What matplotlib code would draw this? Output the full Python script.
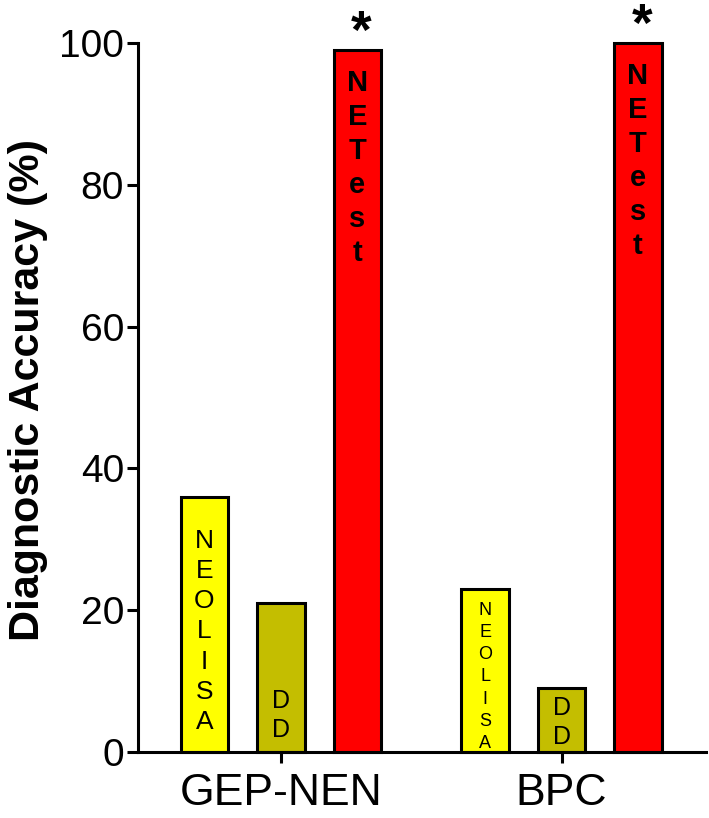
import matplotlib
matplotlib.use('Agg')
import matplotlib.pyplot as plt
import numpy as np

plt.rcParams['font.family'] = ['Liberation Sans', 'DejaVu Sans']

groups = ['GEP-NEN', 'BPC']
tests = ['NEOLISA', 'DD', 'NETest']
acc_gep = [36, 21, 99]
acc_bpc = [23, 9, 100]
colors = ['#FFFF00', '#C4BE00', '#FF0000']
yticks = [0, 20, 40, 60, 80, 100]

group_x = np.array([0, 3.67])
offsets = np.array([-1.0, 0.0, 1.0])
width = 0.62

fig = plt.figure(figsize=(7.09, 8.18), dpi=100)
ax = fig.add_axes([0.1946, 0.0807, 0.8012, 0.8667])

# text style inside bars: (fontsize, weight, linespacing, y center) per group
inner = {
    0: [(19, 'normal', 1.33, 17.0), (18, 'normal', 1.25, 5.1), (21, 'bold', 1.27, 82.4)],
    1: [(13, 'normal', 1.4, 10.6), (18, 'normal', 1.25, 4.2), (21, 'bold', 1.27, 83.4)],
}

for gi, vals in enumerate([acc_gep, acc_bpc]):
    xs = group_x[gi] + offsets
    ax.bar(xs, vals, width=width, color=colors, edgecolor='black', linewidth=2.2,
           clip_on=False, zorder=2)
    for k in range(3):
        fs, fw, ls, yc = inner[gi][k]
        ax.text(xs[k], yc, '\n'.join(tests[k]), ha='center', va='center',
                fontsize=fs, fontweight=fw, linespacing=ls, zorder=2.2)
    # significance marker over NETest
    ax.text(xs[2] + 0.05, vals[2] + 0.3, '*', ha='center', va='baseline',
            fontsize=38, fontweight='bold', clip_on=False)

ax.set_xlim(-1.87, 5.56)
ax.set_ylim(0, 100)
ax.set_yticks(yticks)
ax.set_xticks(group_x)
ax.set_xticklabels(groups, fontsize=32)
ax.tick_params(axis='y', labelsize=28, length=8, width=2.2, pad=2)
ax.tick_params(axis='x', length=8, width=2.2, pad=7)
for s in ['top', 'right']:
    ax.spines[s].set_visible(False)
for s in ['left', 'bottom']:
    ax.spines[s].set_linewidth(2.2)
    ax.spines[s].set_zorder(2.5)
ax.set_ylabel('Diagnostic Accuracy (%)', fontsize=31, fontweight='bold')
ax.yaxis.set_label_coords(-0.158, 0.511)

fig.savefig('out.png', dpi=100)
